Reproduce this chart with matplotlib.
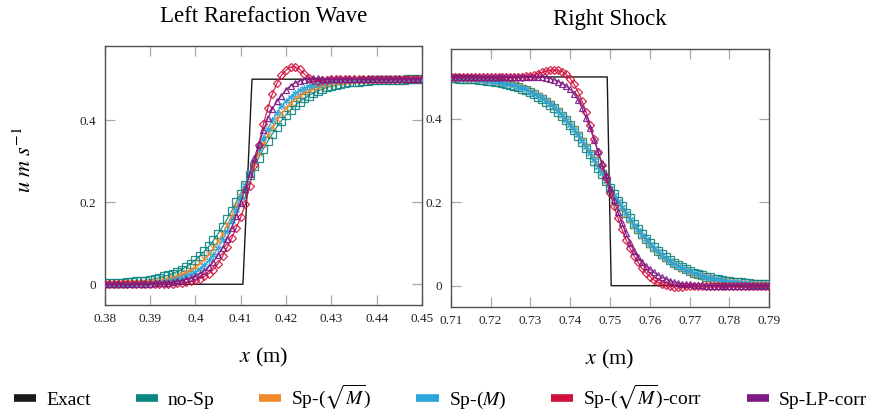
"""Riemann problem velocity profiles: left rarefaction / right shock, six schemes."""
import numpy as np
import matplotlib
matplotlib.use("Agg")
import matplotlib.pyplot as plt
from matplotlib.lines import Line2D
from matplotlib.ticker import FormatStrFormatter

plt.rcParams["font.family"] = ["Liberation Serif", "DejaVu Serif"]
plt.rcParams["mathtext.fontset"] = "stix"

# ---- data ----
x_L = np.linspace(0.38, 0.45, 71)
x_R = np.linspace(0.71, 0.79, 81)

exact_xL = [0.38, 0.4105, 0.4125, 0.45]
exact_yL = [0.0, 0.0, 0.5, 0.5]
exact_xR = [0.71, 0.7493, 0.7503, 0.79]
exact_yR = [0.5, 0.5, 0.0, 0.0]

noSp_L = [0.002, 0.002, 0.003, 0.003, 0.004, 0.005, 0.005, 0.007, 0.008, 0.009,
          0.011, 0.013, 0.016, 0.019, 0.022, 0.026, 0.031, 0.036, 0.043, 0.050,
          0.059, 0.069, 0.080, 0.093, 0.107, 0.123, 0.140, 0.159, 0.178, 0.200,
          0.221, 0.243, 0.266, 0.288, 0.309, 0.330, 0.349, 0.367, 0.384, 0.399,
          0.413, 0.425, 0.436, 0.445, 0.453, 0.460, 0.466, 0.471, 0.476, 0.480,
          0.483, 0.486, 0.488, 0.490, 0.492, 0.493, 0.494, 0.495, 0.496, 0.497,
          0.497, 0.498, 0.498, 0.498, 0.499, 0.499, 0.499, 0.500, 0.500, 0.500, 0.500]
sqrtM_L = [0.001, 0.001, 0.001, 0.001, 0.002, 0.002, 0.002, 0.003, 0.004, 0.005,
           0.006, 0.007, 0.008, 0.010, 0.013, 0.016, 0.019, 0.024, 0.029, 0.035,
           0.042, 0.051, 0.062, 0.074, 0.089, 0.105, 0.123, 0.144, 0.167, 0.191,
           0.216, 0.242, 0.268, 0.294, 0.319, 0.343, 0.365, 0.384, 0.402, 0.417,
           0.431, 0.443, 0.453, 0.461, 0.468, 0.474, 0.478, 0.482, 0.486, 0.488,
           0.490, 0.492, 0.494, 0.495, 0.496, 0.497, 0.497, 0.498, 0.498, 0.499,
           0.499, 0.499, 0.499, 0.499, 0.500, 0.500, 0.500, 0.500, 0.500, 0.500, 0.500]
M_L = [0.000, 0.000, 0.000, 0.001, 0.001, 0.001, 0.001, 0.001, 0.002, 0.002,
       0.003, 0.004, 0.005, 0.006, 0.007, 0.009, 0.012, 0.015, 0.019, 0.024,
       0.030, 0.037, 0.047, 0.058, 0.072, 0.089, 0.108, 0.130, 0.155, 0.182,
       0.211, 0.241, 0.271, 0.301, 0.329, 0.356, 0.379, 0.400, 0.418, 0.434,
       0.447, 0.457, 0.466, 0.473, 0.478, 0.483, 0.487, 0.489, 0.492, 0.493,
       0.495, 0.496, 0.497, 0.498, 0.498, 0.499, 0.499, 0.499, 0.499, 0.500,
       0.500, 0.500, 0.500, 0.500, 0.500, 0.500, 0.500, 0.500, 0.500, 0.500, 0.500]
corr_L = [0.000, 0.000, 0.000, 0.000, 0.000, 0.000, 0.000, 0.000, 0.000, 0.000,
          0.000, 0.000, 0.000, 0.000, 0.001, 0.001, 0.002, 0.003, 0.005, 0.007,
          0.010, 0.014, 0.019, 0.026, 0.036, 0.050, 0.068, 0.090, 0.112, 0.137,
          0.163, 0.195, 0.240, 0.290, 0.340, 0.390, 0.430, 0.465, 0.490, 0.510,
          0.522, 0.530, 0.530, 0.524, 0.513, 0.504, 0.498, 0.496, 0.497, 0.499,
          0.500, 0.501, 0.501, 0.500, 0.500, 0.500, 0.500, 0.500, 0.500, 0.500,
          0.500, 0.500, 0.500, 0.500, 0.500, 0.500, 0.500, 0.500, 0.500, 0.500, 0.500]
lp_L = [0.000, 0.000, 0.000, 0.000, 0.000, 0.000, 0.000, 0.001, 0.001, 0.001,
        0.001, 0.002, 0.002, 0.003, 0.004, 0.005, 0.007, 0.009, 0.012, 0.015,
        0.020, 0.026, 0.033, 0.043, 0.055, 0.071, 0.089, 0.111, 0.137, 0.167,
        0.199, 0.233, 0.269, 0.307, 0.342, 0.375, 0.405, 0.428, 0.446, 0.460,
        0.474, 0.484, 0.491, 0.496, 0.499, 0.501, 0.502, 0.502, 0.501, 0.500,
        0.500, 0.500, 0.500, 0.500, 0.500, 0.500, 0.500, 0.500, 0.500, 0.500,
        0.500, 0.500, 0.500, 0.500, 0.500, 0.500, 0.500, 0.500, 0.500, 0.500, 0.500]

noSp_R = [0.497, 0.497, 0.496, 0.496, 0.495, 0.495, 0.494, 0.493, 0.492, 0.491,
          0.490, 0.488, 0.487, 0.485, 0.483, 0.480, 0.478, 0.475, 0.471, 0.468,
          0.463, 0.458, 0.453, 0.447, 0.440, 0.433, 0.425, 0.416, 0.406, 0.396,
          0.384, 0.372, 0.359, 0.345, 0.330, 0.315, 0.299, 0.283, 0.267, 0.250,
          0.235, 0.219, 0.204, 0.190, 0.175, 0.162, 0.148, 0.136, 0.124, 0.113,
          0.102, 0.093, 0.084, 0.075, 0.068, 0.061, 0.055, 0.049, 0.044, 0.039,
          0.035, 0.031, 0.028, 0.025, 0.022, 0.020, 0.017, 0.015, 0.014, 0.012,
          0.011, 0.010, 0.008, 0.008, 0.007, 0.006, 0.005, 0.005, 0.004, 0.004, 0.003]
sqrtM_R = [0.498, 0.497, 0.497, 0.496, 0.496, 0.495, 0.495, 0.494, 0.493, 0.492,
           0.491, 0.490, 0.489, 0.488, 0.486, 0.484, 0.482, 0.479, 0.475, 0.472,
           0.467, 0.462, 0.457, 0.451, 0.444, 0.437, 0.429, 0.420, 0.410, 0.400,
           0.388, 0.376, 0.363, 0.349, 0.334, 0.319, 0.303, 0.287, 0.270, 0.250,
           0.231, 0.215, 0.200, 0.186, 0.171, 0.158, 0.144, 0.132, 0.120, 0.109,
           0.098, 0.089, 0.080, 0.072, 0.065, 0.058, 0.052, 0.046, 0.041, 0.037,
           0.033, 0.029, 0.026, 0.023, 0.020, 0.018, 0.016, 0.014, 0.013, 0.011,
           0.010, 0.009, 0.008, 0.007, 0.006, 0.005, 0.005, 0.004, 0.004, 0.003, 0.003]
M_R = [0.497, 0.497, 0.496, 0.496, 0.495, 0.495, 0.494, 0.493, 0.492, 0.491,
       0.490, 0.489, 0.488, 0.486, 0.484, 0.482, 0.480, 0.477, 0.473, 0.470,
       0.465, 0.460, 0.455, 0.449, 0.442, 0.435, 0.427, 0.418, 0.408, 0.398,
       0.386, 0.374, 0.361, 0.347, 0.332, 0.317, 0.301, 0.285, 0.269, 0.250,
       0.233, 0.217, 0.202, 0.188, 0.173, 0.160, 0.146, 0.134, 0.122, 0.111,
       0.100, 0.091, 0.082, 0.074, 0.066, 0.060, 0.053, 0.048, 0.043, 0.038,
       0.034, 0.030, 0.027, 0.024, 0.021, 0.019, 0.017, 0.015, 0.013, 0.012,
       0.010, 0.009, 0.008, 0.007, 0.006, 0.006, 0.005, 0.004, 0.004, 0.003, 0.003]
corr_R = [0.500, 0.500, 0.500, 0.500, 0.500, 0.500, 0.500, 0.500, 0.500, 0.500,
          0.500, 0.500, 0.500, 0.500, 0.500, 0.500, 0.500, 0.500, 0.501, 0.502,
          0.503, 0.505, 0.508, 0.511, 0.514, 0.516, 0.517, 0.516, 0.513, 0.506,
          0.496, 0.482, 0.464, 0.442, 0.416, 0.385, 0.352, 0.320, 0.290, 0.257,
          0.222, 0.190, 0.162, 0.135, 0.110, 0.090, 0.072, 0.056, 0.042, 0.031,
          0.022, 0.014, 0.008, 0.004, 0.001, -0.001, -0.002, -0.002, -0.002, -0.001,
          -0.001, 0.000, 0.000, 0.000, 0.000, 0.000, 0.000, 0.000, 0.000, 0.000,
          0.000, 0.000, 0.000, 0.000, 0.000, 0.000, 0.000, 0.000, 0.000, 0.000, 0.000]
lp_R = [0.500, 0.500, 0.500, 0.500, 0.500, 0.500, 0.500, 0.500, 0.500, 0.500,
        0.500, 0.500, 0.500, 0.500, 0.500, 0.500, 0.500, 0.500, 0.500, 0.500,
        0.500, 0.500, 0.500, 0.499, 0.498, 0.496, 0.493, 0.489, 0.484, 0.478,
        0.470, 0.459, 0.445, 0.425, 0.402, 0.377, 0.350, 0.322, 0.293, 0.264,
        0.235, 0.205, 0.176, 0.150, 0.125, 0.103, 0.084, 0.068, 0.057, 0.047,
        0.039, 0.032, 0.026, 0.020, 0.016, 0.012, 0.009, 0.007, 0.005, 0.004,
        0.003, 0.002, 0.001, 0.001, 0.000, 0.000, 0.000, 0.000, 0.000, 0.000,
        0.000, 0.000, 0.000, 0.000, 0.000, 0.000, 0.000, 0.000, 0.000, 0.000, 0.000]

LABELS = ["Exact", "no-Sp", r"Sp-($\sqrt{M}$)", r"Sp-($M$)", r"Sp-($\sqrt{M}$)-corr", "Sp-LP-corr"]
COLORS = ["#1a1a1a", "#0b8580", "#f08a2c", "#2aa6da", "#d0103c", "#7e1a84"]
MARKERS = [None, "s", "x", (6, 2, 0), "D", "^"]
MSIZE = [0, 5.4, 4.4, 4.8, 4.0, 4.6]


def panel(ax, x, exact, series, xlim, ylim, xticks, title):
    ax.plot(exact[0], exact[1], color=COLORS[0], lw=1.0, zorder=2)
    for k, y in enumerate(series, start=1):
        ax.plot(x, y, color=COLORS[k], lw=0.9, marker=MARKERS[k], ms=MSIZE[k],
                mfc="none", mec=COLORS[k], mew=0.9, alpha=0.9, zorder=2 + k)
    ax.set_xlim(*xlim); ax.set_ylim(*ylim)
    ax.set_xticks(xticks); ax.set_yticks([0, 0.2, 0.4])
    ax.xaxis.set_major_formatter(FormatStrFormatter("%g"))
    ax.yaxis.set_major_formatter(FormatStrFormatter("%g"))
    ax.tick_params(direction="in", top=True, right=True, length=7, width=0.9,
                   color="#a8a8a8", labelsize=9.5, labelcolor="#222222", pad=6)
    for s in ax.spines.values():
        s.set_color("#505050"); s.set_linewidth(1.0)
    ax.set_title(title, fontsize=16.5, pad=17)
    ax.set_xlabel(r"$x$ (m)", fontsize=16, labelpad=15)


fig = plt.figure(figsize=(8.81, 4.15), dpi=100)
axL = fig.add_axes([0.1188, 0.2658, 0.3602, 0.6234])
axR = fig.add_axes([0.5116, 0.2610, 0.3616, 0.6210])

panel(axL, x_L, (exact_xL, exact_yL), [noSp_L, sqrtM_L, M_L, corr_L, lp_L],
      (0.38, 0.45), (-0.0498, 0.581), np.round(np.arange(0.38, 0.4501, 0.01), 2),
      "Left Rarefaction Wave")
panel(axR, x_R, (exact_xR, exact_yR), [noSp_R, sqrtM_R, M_R, corr_R, lp_R],
      (0.71, 0.79), (-0.0503, 0.567), np.round(np.arange(0.71, 0.7901, 0.01), 2),
      "Right Shock")

fig.text(0.028, 0.615, r"$u\ m\ s^{-1}$", rotation=90, fontsize=16,
         ha="center", va="center")

handles = [Line2D([], [], color=c, lw=5.5, solid_capstyle="butt") for c in COLORS]
fig.legend(handles, LABELS, loc="lower center", bbox_to_anchor=(0.5, -0.035),
           ncol=6, frameon=False, fontsize=14, handlelength=1.15,
           handletextpad=0.5, columnspacing=2.3)

fig.savefig("out.png", dpi=100, facecolor="white")
